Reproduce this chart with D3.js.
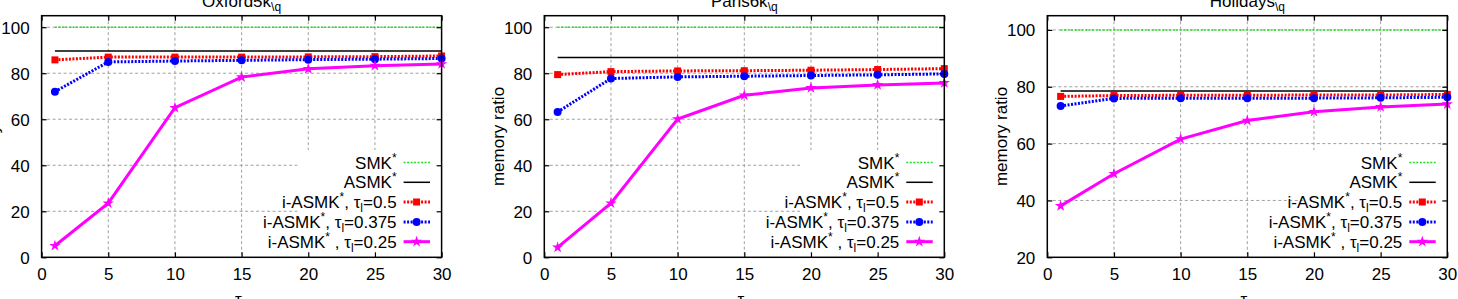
<!DOCTYPE html>
<html>
<head>
<meta charset="utf-8">
<script src="https://cdn.jsdelivr.net/npm/d3@7"></script>
<style>
  body { margin: 0; background: #fff; }
  svg { display: block; }
  text { font-family: "Liberation Sans", Arial, sans-serif; fill: #000; }
</style>
</head>
<body>
<svg id="chart" width="1458" height="299"></svg>
<script>
// tau_q values (x) and axis ticks
const taus = [1, 5, 10, 15, 20, 25, 30];
const xTicks = [0, 5, 10, 15, 20, 25, 30];

const titles = ["Oxford5k", "Paris6k", "Holidays"];
const smkValues = [100, 100, 100];
const asmkValues = [89.7, 86.8, 78.5];

// i-ASMK*, tau_l = 0.5 / 0.375 / 0.25
const oxford05   = [85.8, 87.0, 87.0, 87.0, 87.1, 87.2, 87.5];
const oxford0375 = [72.0, 84.9, 85.3, 85.6, 85.9, 86.1, 86.4];
const oxford025  = [5.0, 23.5, 65.0, 78.3, 81.9, 83.3, 84.0];

const paris05   = [79.4, 80.7, 81.0, 81.1, 81.3, 81.6, 82.0];
const paris0375 = [63.2, 77.7, 78.4, 78.7, 79.0, 79.3, 79.7];
const paris025  = [4.3, 23.5, 60.1, 70.4, 73.6, 74.9, 75.8];

const holidays05   = [76.6, 76.9, 77.0, 77.0, 77.1, 77.1, 77.3];
const holidays0375 = [73.2, 75.9, 76.0, 76.0, 76.0, 76.1, 76.3];
const holidays025  = [38.1, 49.4, 61.6, 68.1, 71.2, 72.9, 73.9];

const yTicksFull = [0, 20, 40, 60, 80, 100];
const yTicksHol = [20, 40, 60, 80, 100];

const panels = [
  {title: titles[0], yDomain: [0, 105], yTicks: yTicksFull, smk: smkValues[0], asmk: asmkValues[0], s: [oxford05, oxford0375, oxford025]},
  {title: titles[1], yDomain: [0, 105], yTicks: yTicksFull, smk: smkValues[1], asmk: asmkValues[1], s: [paris05, paris0375, paris025]},
  {title: titles[2], yDomain: [20, 105], yTicks: yTicksHol, smk: smkValues[2], asmk: asmkValues[2], s: [holidays05, holidays0375, holidays025]}
];

const lefts = [41.6, 544.3, 1047.3];
const ylabOffsets = [43, 40, 40];
const pw = 400;
const plotTop = 15.7, plotBottom = 257.3;
const fs = 17;

const styles = [
  {color: "#ff0000", dash: "2,1.5", width: 3, marker: "square"},
  {color: "#0000ff", dash: "2,1.5", width: 3, marker: "circle"},
  {color: "#ff00ff", dash: null, width: 3, marker: "star"}
];

const svg = d3.select("#chart");

// text with super/subscripts: parts = [[text, shift]] shift: 0 normal, -1 sup, 1 sub
function rich(sel, parts) {
  let cur = 0;
  parts.forEach(p => {
    const target = p[1] === -1 ? -7 : p[1] === 1 ? 4 : 0;
    sel.append("tspan")
       .attr("dy", target - cur)
       .attr("font-size", p[1] === 0 ? null : 12)
       .text(p[0]);
    cur = target;
  });
}

function drawMarker(g, type, cx, cy, color) {
  if (type === "square") {
    g.append("rect").attr("x", cx - 3.5).attr("y", cy - 3.5).attr("width", 7).attr("height", 7).attr("fill", color);
  } else if (type === "circle") {
    g.append("circle").attr("cx", cx).attr("cy", cy).attr("r", 4).attr("fill", color);
  } else {
    g.append("path").attr("d", d3.symbol(d3.symbolStar, 40)()).attr("transform", `translate(${cx},${cy})`).attr("fill", color);
  }
}

const legendLabels = [
  [["SMK", 0], ["*", -1]],
  [["ASMK", 0], ["*", -1]],
  [["i-ASMK", 0], ["*", -1], [", τ", 0], ["l", 1], ["=0.5", 0]],
  [["i-ASMK", 0], ["*", -1], [", τ", 0], ["l", 1], ["=0.375", 0]],
  [["i-ASMK", 0], ["*", -1], [" , τ", 0], ["l", 1], ["=0.25", 0]]
];

panels.forEach((p, pi) => {
  const L = lefts[pi], R = L + pw;
  const x = d3.scaleLinear().domain([0, 30]).range([L, R]);
  const y = d3.scaleLinear().domain(p.yDomain).range([plotBottom, plotTop]);
  const g = svg.append("g");

  // grid
  g.append("g").selectAll("line").data(xTicks.slice(1, -1)).join("line")
    .attr("x1", d => x(d)).attr("x2", d => x(d)).attr("y1", plotTop).attr("y2", plotBottom)
    .attr("stroke", "#a0a0a0").attr("stroke-dasharray", "3,2.5");
  g.append("g").selectAll("line").data(p.yTicks.slice(1)).join("line")
    .attr("x1", L).attr("x2", R).attr("y1", d => y(d)).attr("y2", d => y(d))
    .attr("stroke", "#a0a0a0").attr("stroke-dasharray", "3,2.5");

  // opaque key box
  g.append("rect").attr("x", R - 144).attr("y", 150).attr("width", 144).attr("height", plotBottom - 150).attr("fill", "#fff");

  // reference lines
  const flat = v => d3.line().x(d => x(d)).y(() => y(v))(taus);
  g.append("path").attr("d", flat(p.smk)).attr("fill", "none").attr("stroke", "#22dd22").attr("stroke-width", 1.5).attr("stroke-dasharray", "2,1.5");
  g.append("path").attr("d", flat(p.asmk)).attr("fill", "none").attr("stroke", "#000").attr("stroke-width", 1.5);

  const line = d3.line().x((d, i) => x(taus[i])).y(d => y(d));
  p.s.forEach((vals, si) => {
    const st = styles[si];
    g.append("path").attr("d", line(vals)).attr("fill", "none")
      .attr("stroke", st.color).attr("stroke-width", st.width)
      .attr("stroke-dasharray", st.dash);
    vals.forEach((v, i) => drawMarker(g, st.marker, x(taus[i]), y(v), st.color));
  });

  // frame
  g.append("rect").attr("x", L).attr("y", plotTop).attr("width", pw).attr("height", plotBottom - plotTop)
    .attr("fill", "none").attr("stroke", "#000").attr("stroke-width", 1.5);

  // axes (ticks inside, mirrored)
  const ax = g.append("g").attr("transform", `translate(0,${plotBottom})`)
    .call(d3.axisBottom(x).tickValues(xTicks).tickSize(-5).tickPadding(11));
  const axT = g.append("g").attr("transform", `translate(0,${plotTop})`)
    .call(d3.axisTop(x).tickValues(xTicks).tickSize(-5).tickFormat(""));
  const ay = g.append("g").attr("transform", `translate(${L},0)`)
    .call(d3.axisLeft(y).tickValues(p.yTicks).tickSize(-5).tickPadding(12));
  const ayR = g.append("g").attr("transform", `translate(${R},0)`)
    .call(d3.axisRight(y).tickValues(p.yTicks).tickSize(-5).tickFormat(""));
  [ax, axT, ay, ayR].forEach(a => {
    a.select(".domain").remove();
    a.selectAll("line").attr("stroke", "#000").attr("stroke-width", 1.2);
    a.selectAll("text").attr("font-size", fs).attr("font-family", "Liberation Sans, Arial, sans-serif").attr("fill", "#000");
  });
  ay.selectAll("text").attr("dy", "0.35em");

  // title
  const t = g.append("text").attr("x", (L + R) / 2).attr("y", 7).attr("text-anchor", "middle").attr("font-size", fs);
  rich(t, [[p.title, 0], ["\\q", 1]]);

  // x label
  const xl = g.append("text").attr("x", (L + R) / 2).attr("y", 305).attr("text-anchor", "middle").attr("font-size", fs);
  rich(xl, [["τ", 0], ["q", 1]]);

  // y label
  g.append("text").attr("transform", `translate(${L - ylabOffsets[pi]},${(plotTop + plotBottom) / 2}) rotate(-90)`)
    .attr("text-anchor", "middle").attr("font-size", fs).text("memory ratio");

  // legend
  const rows = [162.5, 182.3, 202, 222, 241.7];
  const legStyles = [
    {color: "#22dd22", dash: "2,1.5", width: 1.5, marker: null},
    {color: "#000", dash: null, width: 1.5, marker: null}
  ].concat(styles);
  rows.forEach((ry, ri) => {
    const lt = g.append("text").attr("x", R - 45).attr("y", ry + 6).attr("text-anchor", "end").attr("font-size", fs);
    rich(lt, legendLabels[ri]);
    const st = legStyles[ri];
    g.append("line").attr("x1", R - 38).attr("x2", R - 11.6).attr("y1", ry).attr("y2", ry)
      .attr("stroke", st.color).attr("stroke-width", st.width).attr("stroke-dasharray", st.dash);
    if (st.marker) drawMarker(g, st.marker, R - 25, ry, st.color);
  });
});
</script>
</body>
</html>
